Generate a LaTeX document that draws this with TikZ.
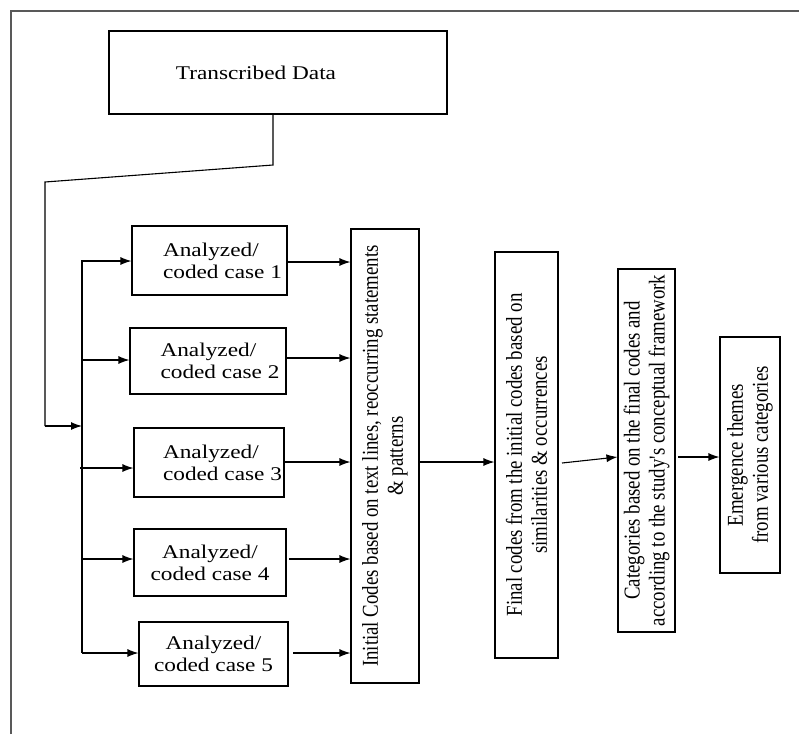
\documentclass[tikz,border=0pt]{standalone}
\usepackage{fontspec}
\setmainfont{Liberation Serif}
\newfontfamily\hfont{Liberation Serif}[FakeStretch=1.2]
\newfontfamily\vfont{Liberation Serif}[FakeStretch=0.83]
\usetikzlibrary{arrows.meta}
\tikzset{
  box/.style={draw, line width=1.1pt, inner sep=0pt, align=center,
    font=\hfont\fontsize{19.4}{22}\selectfont},
  vbox/.style={draw, line width=1.1pt, inner sep=0pt, rotate=90, align=center,
    font=\vfont\fontsize{22.7}{25}\selectfont},
  conn/.style={line width=1.1pt},
  arr/.style={line width=1.1pt, -{Latex[length=11pt,width=8pt]}},
  frameline/.style={line width=1.5pt, draw=black!65}
}
\begin{document}
\begin{tikzpicture}[x=1pt,y=-1pt]
\useasboundingbox (0,0) rectangle (799,734);
% outer frame
\draw[frameline] (11,734) -- (11,11) -- (799,11);

% top box
\node[box, minimum width=338pt, minimum height=83pt] (td) at (278,72.5) {\hspace*{-44pt}Transcribed Data};

% case boxes
\node[box, align=left, minimum width=155pt, minimum height=69pt] (c1) at (209.5,260.5) {\hspace*{26pt}Analyzed/\\\hspace*{26pt}coded case 1};
\node[box, align=left, minimum width=156pt, minimum height=66pt] (c2) at (208,361) {\hspace*{24pt}Analyzed/\\\hspace*{24pt}coded case 2};
\node[box, align=left, minimum width=150pt, minimum height=69pt] (c3) at (209,462.5) {\hspace*{27pt}Analyzed/\\\hspace*{27pt}coded case 3};
\node[box, minimum width=152pt, minimum height=67pt] (c4) at (210,562.5) {Analyzed/\\coded case 4};
\node[box, minimum width=149pt, minimum height=64pt] (c5) at (213.5,654) {Analyzed/\\coded case 5};

% vertical boxes
\node[vbox, minimum width=454pt, minimum height=68pt] (ini) at (385,456) {Initial Codes based on text lines, reoccurring statements\\\& patterns};
\node[vbox, minimum width=406pt, minimum height=63pt] (fin) at (526.5,455) {Final codes from the initial codes based on\\similarities \& occurrences};
\node[vbox, minimum width=363pt, minimum height=57pt] (cat) at (646.5,450.5) {Categories based on the final codes and\\according to the study's conceptual framework};
\node[vbox, minimum width=236pt, minimum height=60pt] (em) at (750,455) {Emergence themes\\from various categories};

% connector from transcribed data to the bus
\coordinate (j0) at (273,165);
\coordinate (j1) at (45,182);
\coordinate (j2) at (45,426);
\coordinate (bj) at (82,426);
\draw[conn] (j0 |- td.south) -- (j0) -- (j1) -- (j2);
\draw[arr] (j2) -- (bj);

% bus
\coordinate (bt) at (82,260);
\coordinate (bb) at (82,653);
\draw[conn] (bt) -- (bb);

\coordinate (b1) at (82,261);
\coordinate (b2) at (82,360);
\coordinate (b3) at (80,468);
\coordinate (b4) at (82,559);
\coordinate (b5) at (82,653);
\draw[arr] (b1) -- (b1 -| c1.west);
\draw[arr] (b2) -- (b2 -| c2.west);
\draw[arr] (b3) -- (b3 -| c3.west);
\draw[arr] (b4) -- (b4 -| c4.west);
\draw[arr] (b5) -- (b5 -| c5.west);

% cases to initial codes
\coordinate (o1) at (287,262);
\coordinate (o2) at (286,358);
\coordinate (o3) at (285,462);
\coordinate (o4) at (289,559);
\coordinate (o5) at (293,653);
\draw[arr] (o1) -- (o1 -| ini.north);
\draw[arr] (o2) -- (o2 -| ini.north);
\draw[arr] (o3) -- (o3 -| ini.north);
\draw[arr] (o4) -- (o4 -| ini.north);
\draw[arr] (o5) -- (o5 -| ini.north);

% chain
\coordinate (p1) at (419,462);
\draw[arr] (p1) -- (p1 -| fin.north);
\coordinate (p2) at (562,463);
\coordinate (p2e) at (618,457);
\draw[arr] (p2) -- (p2e -| cat.north);
\coordinate (p3) at (678,457);
\draw[arr] (p3) -- (p3 -| em.north);
\end{tikzpicture}
\end{document}
